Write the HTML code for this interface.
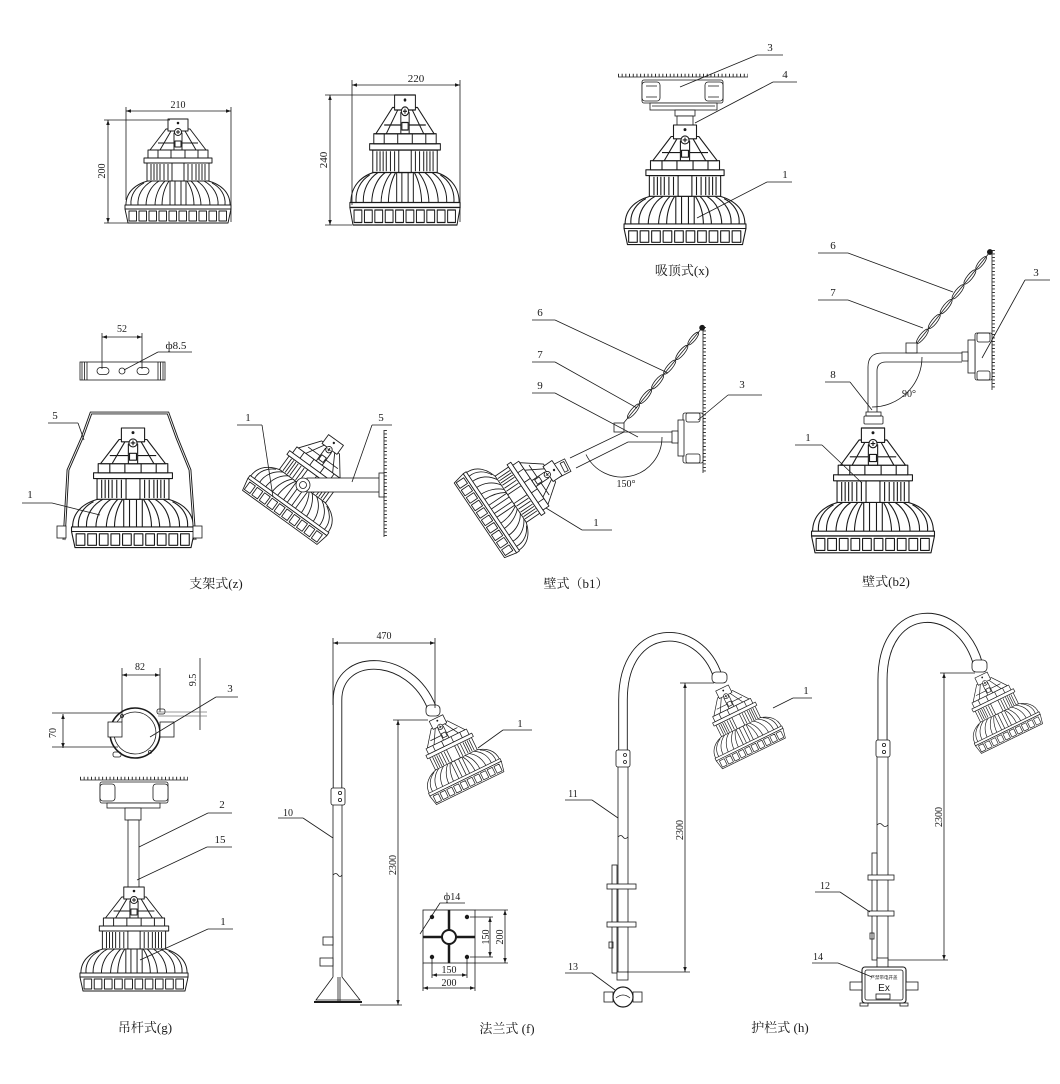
<!DOCTYPE html>
<html><head><meta charset="utf-8">
<style>
html,body{margin:0;padding:0;background:#fff;}
svg{display:block;}
text{font-family:"Liberation Serif","Noto Serif CJK SC",serif;fill:#1a1a1a;}
.cap{font-size:13px;}
.lb{font-size:11px;}
.dm{font-size:10px;}
</style></head><body>
<svg width="1060" height="1084" viewBox="0 0 1060 1084" xmlns="http://www.w3.org/2000/svg">
<defs>
<marker id="ar" viewBox="0 0 10 10" refX="10" refY="5" markerWidth="7" markerHeight="5" markerUnits="userSpaceOnUse" orient="auto-start-reverse"><path d="M0 1.5L10 5L0 8.5z" fill="#1a1a1a"/></marker>
<g id="lamp" stroke="#1a1a1a" stroke-width="0.95" fill="#fff" stroke-linejoin="round">
  <path d="M-52 88 C-53 73 -42 64 -26 61 L26 61 C42 64 53 73 52 88 Z"/>
  <path fill="none" d="M-47 86 C-48 76 -42 68 -34 64 M-40 87 C-41 76 -35 67 -26 62 M-32 87 C-32 76 -27 67 -19 62 M-23 87 C-23 77 -19 68 -13 62 M-16 87 C-16 77 -13 68 -9 62 M16 87 C16 77 13 68 9 62 M23 87 C23 77 19 68 13 62 M32 87 C32 76 27 67 19 62 M40 87 C41 76 35 67 26 62 M47 86 C48 76 42 68 34 64"/>
  <rect x="-8" y="61" width="16" height="26"/>
  <path fill="none" d="M-3 61V87 M3 61V87"/>
  <rect x="-53" y="86" width="106" height="4"/>
  <path d="M-53 90H53L50 104H-50Z"/>
  <path fill="none" d="M-49 92h7.5v10h-7.5z M-39 92h7.5v10h-7.5z M-29 92h7.5v10h-7.5z M-19 92h7.5v10h-7.5z M-9 92h7.5v10h-7.5z M1 92h7.5v10h-7.5z M11 92h7.5v10h-7.5z M21 92h7.5v10h-7.5z M31 92h7.5v10h-7.5z M41 92h7.5v10h-7.5z"/>
  <rect x="-31" y="44" width="62" height="18"/>
  <path fill="none" d="M-27 45V61 M-24 45V61 M-21 45V61 M-18 45V61 M-14 45V61 M-10 45V61 M10 45V61 M14 45V61 M18 45V61 M21 45V61 M24 45V61 M27 45V61"/>
  <rect x="-6" y="44" width="12" height="18"/>
  <rect x="-34" y="39" width="68" height="5"/>
  <rect x="-30" y="31" width="60" height="8"/>
  <path fill="none" d="M-20 31V39 M-7 31V39 M7 31V39 M20 31V39"/>
  <path d="M-12 10L12 10L28 31L-28 31Z"/>
  <path fill="none" d="M-7 12L-18 31 M7 12L18 31 M-20 24L20 24"/>
  <rect x="-4" y="14" width="8" height="17"/>
  <rect x="-3" y="22" width="6" height="6"/>
  <rect x="-10" y="0" width="20" height="12"/>
  <circle cx="0" cy="4" r="0.8" fill="#1a1a1a"/>
  <circle cx="0" cy="13" r="3.5"/>
  <path fill="none" d="M-2 13H2 M0 11V15"/>
</g>
</defs>

<g stroke="#1a1a1a" stroke-width="0.8" fill="none">

<!-- ============ Scene 1 top-left ============ -->
<use href="#lamp" transform="translate(178,119)"/>
<line x1="126" y1="111" x2="231" y2="111" marker-start="url(#ar)" marker-end="url(#ar)"/>
<line x1="126" y1="107" x2="126" y2="200"/>
<line x1="231" y1="107" x2="231" y2="222"/>
<line x1="108" y1="120" x2="108" y2="223" marker-start="url(#ar)" marker-end="url(#ar)"/>
<line x1="104" y1="120" x2="170" y2="120"/>
<line x1="104" y1="223" x2="128" y2="223"/>

<!-- ============ Scene 2 ============ -->
<use href="#lamp" transform="translate(405,95) scale(1.04,1.25)"/>
<line x1="352" y1="85" x2="460" y2="85" marker-start="url(#ar)" marker-end="url(#ar)"/>
<line x1="352" y1="80" x2="352" y2="205"/>
<line x1="460" y1="80" x2="460" y2="222"/>
<line x1="330" y1="95" x2="330" y2="225" marker-start="url(#ar)" marker-end="url(#ar)"/>
<line x1="325" y1="95" x2="398" y2="95"/>
<line x1="325" y1="225" x2="352" y2="225"/>

<!-- ============ Scene 3 吸顶式 ============ -->
<line x1="618" y1="77" x2="748" y2="77"/>
<line x1="618" y1="75.2" x2="748" y2="75.2" stroke-width="3" stroke-dasharray="0.9 2.8"/>
<rect x="642" y="80" width="81" height="23" rx="2" fill="#fff"/>
<rect x="642" y="82" width="18" height="19" rx="3" fill="#fff"/>
<rect x="705" y="82" width="18" height="19" rx="3" fill="#fff"/>
<path d="M646 86H657 M646 97H657 M708 86H719 M708 97H719"/>
<rect x="650" y="103" width="67" height="7" fill="#fff"/>
<line x1="652" y1="106" x2="715" y2="106"/>
<rect x="675" y="110" width="20" height="6" fill="#fff"/>
<rect x="677" y="116" width="16" height="9" fill="#fff"/>
<use href="#lamp" transform="translate(685,125) scale(1.15)"/>
<path d="M757 55H783 M757 55L680 87"/>
<path d="M773 82H797 M773 82L695 123"/>
<path d="M767 182H792 M767 182L697 218"/>

<!-- ============ Scene 4 支架式 ============ -->
<rect x="80" y="362" width="85" height="18" fill="#fff"/>
<path d="M82 362V380 M84.5 362V380 M87 362V380 M158 362V380 M160.5 362V380 M163 362V380"/>
<rect x="97" y="367.5" width="12" height="7" rx="3.5"/>
<rect x="137" y="367.5" width="12" height="7" rx="3.5"/>
<circle cx="122" cy="371" r="3"/>
<line x1="102" y1="337" x2="142" y2="337" marker-start="url(#ar)" marker-end="url(#ar)"/>
<line x1="102" y1="333" x2="102" y2="369"/>
<line x1="142" y1="333" x2="142" y2="369"/>
<path d="M158 352H192 M158 352L124 370"/>
<use href="#lamp" transform="translate(133,428) scale(1.16,1.15)"/>
<path d="M64 540L68 470L82 438L91 413H168L177 438L190 470L195 540" stroke-width="2.8"/>
<path d="M64 540L68 470L82 438L91 413H168L177 438L190 470L195 540" stroke="#fff" stroke-width="0.9"/>
<rect x="57" y="526" width="9" height="12" fill="#fff"/>
<rect x="193" y="526" width="9" height="12" fill="#fff"/>
<path d="M48 423H78 M78 423L84 440"/>
<path d="M22 503H52 M52 503L100 515"/>
<!-- side view -->
<line x1="384" y1="430" x2="384" y2="537"/>
<line x1="385.7" y1="430" x2="385.7" y2="537" stroke-width="2.4" stroke-dasharray="0.9 2.6"/>
<use href="#lamp" transform="translate(336,440) rotate(36) scale(0.92)"/>
<rect x="307" y="478" width="73" height="14" fill="#fff"/>
<rect x="379" y="473" width="5" height="24" fill="#fff"/>
<circle cx="303" cy="485" r="7" fill="#fff"/>
<circle cx="303" cy="485" r="3.5"/>
<path d="M237 425H262 M262 425L273 497"/>
<path d="M372 425H392 M372 425L352 482"/>

<!-- ============ Scene 5 壁式 b1 ============ -->
<line x1="703" y1="327" x2="703" y2="473"/>
<line x1="704.7" y1="327" x2="704.7" y2="473" stroke-width="2.4" stroke-dasharray="0.9 2.6"/>
<g transform="translate(622,425) rotate(-50.5)">
  <line x1="0" y1="0" x2="126" y2="0"/>
  <ellipse cx="18" cy="0" rx="9" ry="2.6"/>
  <ellipse cx="37" cy="0" rx="9" ry="2.6"/>
  <ellipse cx="56" cy="0" rx="9" ry="2.6"/>
  <ellipse cx="75" cy="0" rx="9" ry="2.6"/>
  <ellipse cx="94" cy="0" rx="9" ry="2.6"/>
  <ellipse cx="112" cy="0" rx="8" ry="2.4"/>
  <circle cx="126" cy="0" r="2.5" fill="#1a1a1a"/>
</g>
<rect x="614" y="423" width="10" height="9" fill="#fff"/>
<path d="M677 432H624L570 458 M677 442H628L576 468"/>
<rect x="683" y="413" width="20" height="50" rx="2" fill="#fff"/>
<rect x="678" y="420" width="6" height="36" fill="#fff"/>
<rect x="672" y="431" width="6" height="12" fill="#fff"/>
<rect x="686" y="413" width="14" height="9" rx="2"/>
<rect x="686" y="454" width="14" height="9" rx="2"/>
<g transform="translate(566,466) rotate(-27)">
  <rect x="-12" y="-7" width="14" height="14" fill="#fff"/>
  <rect x="-4" y="-5" width="4" height="10"/>
</g>
<use href="#lamp" transform="translate(557,468) rotate(56) scale(0.9)"/>
<path d="M532 320H555 M555 320L668 373"/>
<path d="M532 362H555 M555 362L637 408"/>
<path d="M532 393H555 M555 393L638 437"/>
<path d="M728 395H762 M728 395L698 420"/>
<path d="M582 530H612 M582 530L546 508"/>
<path d="M662 437A40 40 0 0 1 586 454.5"/>

<!-- ============ Scene 6 壁式 b2 ============ -->
<line x1="992" y1="250" x2="992" y2="390"/>
<line x1="993.7" y1="250" x2="993.7" y2="390" stroke-width="2.4" stroke-dasharray="0.9 2.6"/>
<g transform="translate(913,348) rotate(-51.3)">
  <line x1="0" y1="0" x2="123" y2="0"/>
  <ellipse cx="15" cy="0" rx="9" ry="2.6"/>
  <ellipse cx="34" cy="0" rx="9" ry="2.6"/>
  <ellipse cx="53" cy="0" rx="9" ry="2.6"/>
  <ellipse cx="72" cy="0" rx="9" ry="2.6"/>
  <ellipse cx="91" cy="0" rx="9" ry="2.6"/>
  <ellipse cx="109" cy="0" rx="8" ry="2.4"/>
  <circle cx="123" cy="0" r="2.5" fill="#1a1a1a"/>
</g>
<rect x="906" y="343" width="11" height="10" fill="#fff"/>
<path d="M962 353H882Q868 353 868 367V412 M962 362H886Q877 362 877 371V412"/>
<rect x="975" y="333" width="17" height="47" rx="2" fill="#fff"/>
<rect x="968" y="340" width="7" height="33" fill="#fff"/>
<rect x="962" y="352" width="6" height="9" fill="#fff"/>
<rect x="977" y="333" width="13" height="9" rx="2"/>
<rect x="977" y="371" width="13" height="9" rx="2"/>
<rect x="864" y="416" width="19" height="8" rx="1" fill="#fff"/>
<rect x="866" y="412" width="15" height="4"/>
<use href="#lamp" transform="translate(873,428) scale(1.16,1.2)"/>
<path d="M818 253H848 M848 253L953 292"/>
<path d="M818 300H848 M848 300L923 328"/>
<path d="M1025 280H1050 M1025 280L982 358"/>
<path d="M825 382H850 M850 382L872 410"/>
<path d="M795 445H822 M822 445L862 483"/>
<path d="M922 357A50 50 0 0 1 872 407"/>

<!-- ============ Scene 7 吊杆式 ============ -->
<circle cx="135" cy="733" r="25" stroke-width="1.6" fill="#fff"/>
<circle cx="135" cy="733" r="21"/>
<rect x="108" y="722" width="14" height="15" fill="#fff"/>
<rect x="160" y="722" width="14" height="15" fill="#fff"/>
<rect x="157" y="709" width="8" height="5" rx="2"/>
<rect x="113" y="752" width="8" height="5" rx="2"/>
<circle cx="122" cy="716" r="1.5"/>
<circle cx="150" cy="752" r="1.5"/>
<line x1="122" y1="675" x2="160" y2="675" marker-start="url(#ar)" marker-end="url(#ar)"/>
<line x1="122" y1="668" x2="122" y2="722"/>
<line x1="160" y1="668" x2="160" y2="712"/>
<line x1="200" y1="658" x2="200" y2="730"/>
<path d="M158 712H207 M158 716H207" stroke="#777"/>
<line x1="63" y1="714" x2="63" y2="748" marker-start="url(#ar)" marker-end="url(#ar)"/>
<line x1="52" y1="713" x2="120" y2="713"/>
<line x1="52" y1="747" x2="118" y2="747"/>
<path d="M216 697H238 M216 697L150 737"/>
<line x1="80" y1="780" x2="188" y2="780"/>
<line x1="80" y1="778.2" x2="188" y2="778.2" stroke-width="3" stroke-dasharray="0.9 2.8"/>
<rect x="100" y="782" width="68" height="21" rx="2" fill="#fff"/>
<rect x="100" y="784" width="15" height="17" rx="3" fill="#fff"/>
<rect x="153" y="784" width="15" height="17" rx="3" fill="#fff"/>
<rect x="107" y="803" width="53" height="5" fill="#fff"/>
<rect x="125" y="808" width="16" height="12" fill="#fff"/>
<rect x="128" y="820" width="11" height="67" fill="#fff"/>
<use href="#lamp" transform="translate(134,887) scale(1.02,1.0)"/>
<path d="M208 813H232 M208 813L139 847"/>
<path d="M207 847H232 M207 847L137 880"/>
<path d="M208 929H233 M208 929L140 960"/>

<!-- ============ Scene 8 法兰式 ============ -->
<path d="M337.5 790V700C337.5 652 410 652 432 708" stroke-width="9.5"/>
<path d="M337.5 791V700C337.5 652 410 652 432 708" stroke="#fff" stroke-width="7.7"/>
<rect x="426" y="705" width="14" height="11" rx="4" fill="#fff"/>
<rect x="331" y="788" width="14" height="17" rx="2" fill="#fff"/>
<circle cx="340" cy="793" r="1.6"/><circle cx="340" cy="800" r="1.6"/>
<path d="M333 805V977 M342 805V977"/>
<path d="M333 875q3 -3 5 0t4 0"/>
<rect x="323" y="937" width="10" height="8" fill="#fff"/>
<rect x="320" y="958" width="13" height="8" fill="#fff"/>
<path d="M333 977L316 1000H360L342 977 M338 977V1003 M340 977V1003"/>
<line x1="314" y1="1002" x2="362" y2="1002" stroke-width="2"/>
<use href="#lamp" transform="translate(436,718) rotate(-26) scale(0.75)"/>
<line x1="333" y1="643" x2="435" y2="643" marker-start="url(#ar)" marker-end="url(#ar)"/>
<line x1="333" y1="638" x2="333" y2="705"/>
<line x1="435" y1="638" x2="435" y2="708"/>
<line x1="398" y1="720" x2="398" y2="1005" marker-start="url(#ar)" marker-end="url(#ar)"/>
<line x1="393" y1="720" x2="428" y2="720"/>
<line x1="360" y1="1005" x2="402" y2="1005"/>
<path d="M503 730H532 M503 730L478 748"/>
<path d="M278 818H303 M303 818L333 838"/>
<rect x="423" y="910" width="52" height="53" fill="#fff"/>
<line x1="449" y1="910" x2="449" y2="963" stroke-width="2.5"/>
<line x1="423" y1="937" x2="475" y2="937" stroke-width="2.5"/>
<circle cx="449" cy="937" r="7" fill="#fff" stroke-width="2"/>
<g fill="#1a1a1a" stroke="none">
<circle cx="432" cy="917" r="2.2"/><circle cx="467" cy="917" r="2.2"/>
<circle cx="432" cy="957" r="2.2"/><circle cx="467" cy="957" r="2.2"/>
</g>
<path d="M465 903H440L420 934"/>
<line x1="490" y1="917" x2="490" y2="957" marker-start="url(#ar)" marker-end="url(#ar)"/>
<line x1="470" y1="917" x2="493" y2="917"/><line x1="470" y1="957" x2="493" y2="957"/>
<line x1="505" y1="910" x2="505" y2="963" marker-start="url(#ar)" marker-end="url(#ar)"/>
<line x1="475" y1="910" x2="508" y2="910"/><line x1="475" y1="963" x2="508" y2="963"/>
<line x1="432" y1="975" x2="467" y2="975" marker-start="url(#ar)" marker-end="url(#ar)"/>
<line x1="432" y1="957" x2="432" y2="978"/><line x1="467" y1="957" x2="467" y2="978"/>
<line x1="423" y1="988" x2="475" y2="988" marker-start="url(#ar)" marker-end="url(#ar)"/>
<line x1="423" y1="963" x2="423" y2="991"/><line x1="475" y1="963" x2="475" y2="991"/>

<!-- ============ Scene 9 护栏式 left ============ -->
<path d="M623 752V700C623 620 700 620 718 677" stroke-width="9.5"/>
<path d="M623 753V700C623 620 700 620 718 677" stroke="#fff" stroke-width="7.7"/>
<rect x="712" y="672" width="15" height="11" rx="4" fill="#fff"/>
<rect x="616" y="750" width="14" height="17" rx="2" fill="#fff"/>
<circle cx="625" cy="755" r="1.5"/><circle cx="625" cy="762" r="1.5"/>
<path d="M618 767V972 M628 767V972"/>
<path d="M618 837q3 -3 5 0t5 0"/>
<rect x="612" y="865" width="5" height="108" fill="#fff"/>
<rect x="607" y="884" width="29" height="5" fill="#fff"/>
<rect x="607" y="922" width="29" height="5" fill="#fff"/>
<rect x="609" y="942" width="4" height="6"/>
<rect x="617" y="972" width="11" height="8" fill="#fff"/>
<rect x="604" y="992" width="9" height="10" fill="#fff"/>
<rect x="633" y="992" width="9" height="10" fill="#fff"/>
<circle cx="623" cy="997" r="10" fill="#fff" stroke-width="1.2"/>
<path d="M616 998q7 -6 14 0"/>
<use href="#lamp" transform="translate(722,688) rotate(-26) scale(0.7)"/>
<line x1="685" y1="683" x2="685" y2="972" marker-start="url(#ar)" marker-end="url(#ar)"/>
<line x1="680" y1="683" x2="714" y2="683"/>
<line x1="627" y1="972" x2="690" y2="972"/>
<path d="M793 698H812 M793 698L773 708"/>
<path d="M565 800H592 M592 800L618 818"/>
<path d="M565 973H592 M592 973L615 990"/>

<!-- ============ Scene 10 护栏式 right ============ -->
<path d="M882.5 741V680C882.5 600 960 600 978 664" stroke-width="10"/>
<path d="M882.5 742V680C882.5 600 960 600 978 664" stroke="#fff" stroke-width="8.2"/>
<rect x="972" y="660" width="15" height="12" rx="4" fill="#fff"/>
<rect x="876" y="740" width="14" height="17" rx="2" fill="#fff"/>
<circle cx="884" cy="745" r="1.6"/><circle cx="884" cy="752" r="1.6"/>
<path d="M877 757V960 M888 757V960"/>
<path d="M877 825q3 -3 5.5 0t5.5 0"/>
<rect x="872" y="853" width="5" height="107" fill="#fff"/>
<rect x="868" y="875" width="26" height="5" fill="#fff"/>
<rect x="868" y="911" width="26" height="5" fill="#fff"/>
<rect x="870" y="933" width="4" height="6"/>
<rect x="877" y="958" width="11" height="10" fill="#fff"/>
<rect x="862" y="967" width="44" height="36" rx="3" fill="#fff" stroke-width="1.1"/>
<rect x="865" y="970" width="38" height="30" rx="2"/>
<rect x="850" y="982" width="12" height="8" fill="#fff"/>
<rect x="906" y="982" width="12" height="8" fill="#fff"/>
<rect x="876" y="994" width="14" height="5"/>
<rect x="860" y="1003" width="8" height="3"/>
<rect x="900" y="1003" width="8" height="3"/>
<use href="#lamp" transform="translate(981,675) rotate(-26) scale(0.68)"/>
<line x1="944" y1="673" x2="944" y2="960" marker-start="url(#ar)" marker-end="url(#ar)"/>
<line x1="940" y1="673" x2="975" y2="673"/>
<line x1="888" y1="960" x2="948" y2="960"/>
<path d="M815 892H840 M840 892L870 912"/>
<path d="M812 963H838 M838 963L872 977"/>
</g>

<!-- ============ Texts ============ -->
<text class="dm" x="178" y="108" text-anchor="middle">210</text>
<text class="dm" transform="translate(105,171) rotate(-90)" text-anchor="middle">200</text>
<text class="lb" x="416" y="82" text-anchor="middle">220</text>
<text class="lb" transform="translate(327,160) rotate(-90)" text-anchor="middle">240</text>

<text class="lb" x="770" y="51" text-anchor="middle">3</text>
<text class="lb" x="785" y="78" text-anchor="middle">4</text>
<text class="lb" x="785" y="178" text-anchor="middle">1</text>
<text class="cap" x="682" y="275" text-anchor="middle">吸顶式(x)</text>

<text class="dm" x="122" y="332" text-anchor="middle">52</text>
<text class="lb" x="176" y="349" text-anchor="middle">ф8.5</text>
<text class="lb" x="55" y="419" text-anchor="middle">5</text>
<text class="lb" x="30" y="498" text-anchor="middle">1</text>
<text class="lb" x="248" y="421" text-anchor="middle">1</text>
<text class="lb" x="381" y="421" text-anchor="middle">5</text>
<text class="cap" x="216" y="588" text-anchor="middle">支架式(z)</text>

<text class="lb" x="540" y="316" text-anchor="middle">6</text>
<text class="lb" x="540" y="358" text-anchor="middle">7</text>
<text class="lb" x="540" y="389" text-anchor="middle">9</text>
<text class="lb" x="742" y="388" text-anchor="middle">3</text>
<text class="lb" x="596" y="526" text-anchor="middle">1</text>
<text class="dm" x="626" y="487" text-anchor="middle">150°</text>
<text class="cap" x="576" y="588" text-anchor="middle">壁式（b1）</text>

<text class="lb" x="833" y="249" text-anchor="middle">6</text>
<text class="lb" x="833" y="296" text-anchor="middle">7</text>
<text class="lb" x="1036" y="276" text-anchor="middle">3</text>
<text class="lb" x="833" y="378" text-anchor="middle">8</text>
<text class="lb" x="808" y="441" text-anchor="middle">1</text>
<text class="dm" x="909" y="397" text-anchor="middle">90°</text>
<text class="cap" x="886" y="586" text-anchor="middle">壁式(b2)</text>

<text class="dm" x="140" y="670" text-anchor="middle">82</text>
<text class="dm" transform="translate(196,680) rotate(-90)" text-anchor="middle">9.5</text>
<text class="dm" transform="translate(56,733) rotate(-90)" text-anchor="middle">70</text>
<text class="lb" x="230" y="692" text-anchor="middle">3</text>
<text class="lb" x="222" y="808" text-anchor="middle">2</text>
<text class="lb" x="220" y="843" text-anchor="middle">15</text>
<text class="lb" x="223" y="925" text-anchor="middle">1</text>
<text class="cap" x="145" y="1032" text-anchor="middle">吊杆式(g)</text>

<text class="dm" x="384" y="639" text-anchor="middle">470</text>
<text class="dm" transform="translate(396,865) rotate(-90)" text-anchor="middle">2300</text>
<text class="lb" x="520" y="727" text-anchor="middle">1</text>
<text class="dm" x="288" y="816" text-anchor="middle">10</text>
<text class="dm" x="452" y="900" text-anchor="middle">ф14</text>
<text class="dm" transform="translate(489,937) rotate(-90)" text-anchor="middle">150</text>
<text class="dm" transform="translate(503,937) rotate(-90)" text-anchor="middle">200</text>
<text class="dm" x="449" y="973" text-anchor="middle">150</text>
<text class="dm" x="449" y="986" text-anchor="middle">200</text>
<text class="cap" x="507" y="1033" text-anchor="middle">法兰式 (f)</text>

<text class="dm" transform="translate(683,830) rotate(-90)" text-anchor="middle">2300</text>
<text class="lb" x="806" y="694" text-anchor="middle">1</text>
<text class="dm" x="573" y="797" text-anchor="middle">11</text>
<text class="dm" x="573" y="970" text-anchor="middle">13</text>
<text class="cap" x="780" y="1032" text-anchor="middle">护栏式 (h)</text>

<text class="dm" transform="translate(942,817) rotate(-90)" text-anchor="middle">2300</text>
<text class="dm" x="825" y="889" text-anchor="middle">12</text>
<text class="dm" x="818" y="960" text-anchor="middle">14</text>
<text x="884" y="979" text-anchor="middle" style="font-size:4.5px;font-family:'Noto Sans CJK SC',sans-serif">严禁带电开盖</text>
<text x="884" y="991" text-anchor="middle" style="font-size:10px;font-family:'Liberation Sans',sans-serif">Ex</text>
</svg>
</body></html>
